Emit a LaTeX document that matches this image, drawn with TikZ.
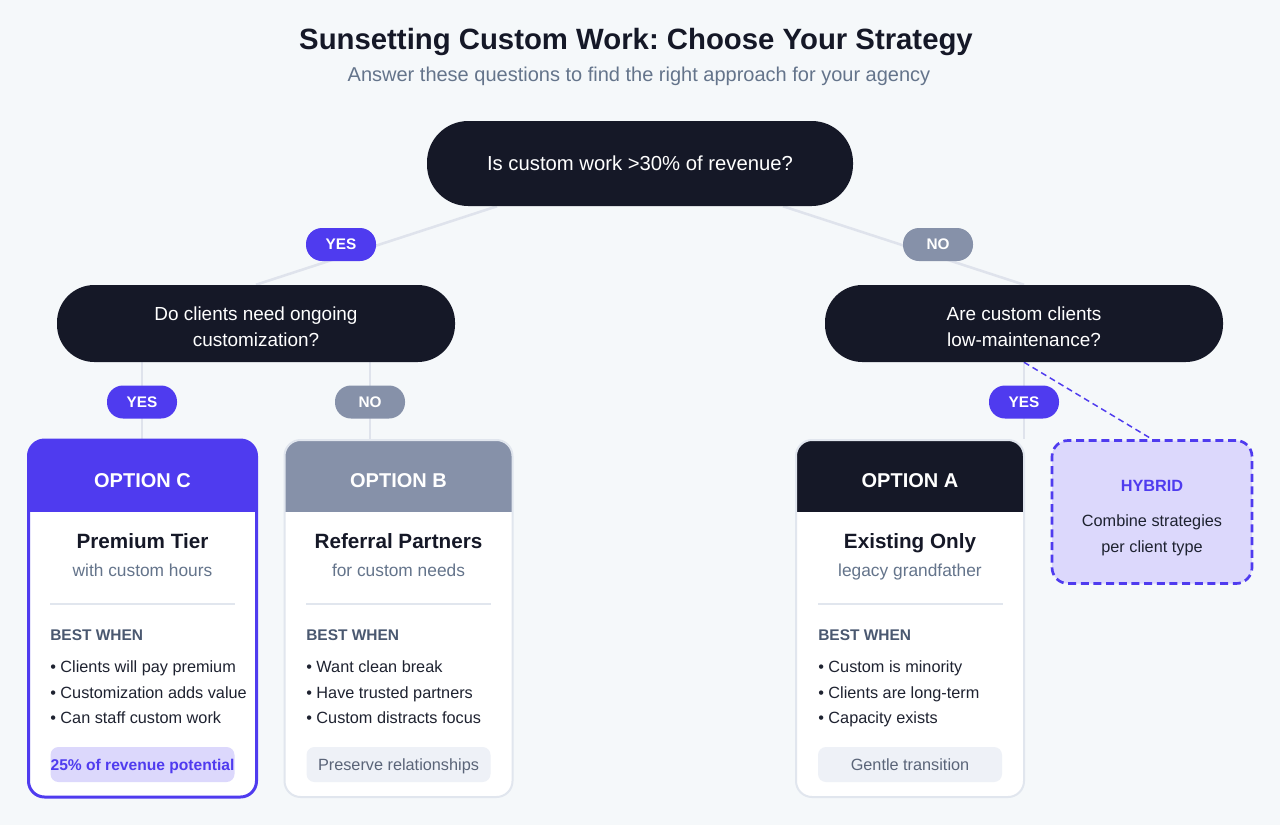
\documentclass[tikz,border=0pt]{standalone}
\usepackage{fontspec}
\setmainfont{Liberation Sans}
\usetikzlibrary{calc}
\definecolor{bgc}{HTML}{F5F8FA}
\definecolor{darkc}{HTML}{151827}
\definecolor{indigoc}{HTML}{4F3BEF}
\definecolor{slatec}{HTML}{8691A9}
\definecolor{connc}{HTML}{DFE3EC}
\definecolor{subc}{HTML}{64748B}
\definecolor{bestc}{HTML}{4A5870}
\definecolor{bodyc}{HTML}{1E2230}
\definecolor{borderc}{HTML}{E1E6EE}
\definecolor{lavc}{HTML}{DCD8FC}
\definecolor{pillc}{HTML}{EEF1F7}
\definecolor{pilltc}{HTML}{5A6478}
\newcommand\myfs[2]{\fontsize{#1}{#2}\selectfont}
\pgfdeclarelayer{back}
\pgfdeclarelayer{wires}
\pgfsetlayers{back,wires,main}
\frenchspacing
\begin{document}
\begin{tikzpicture}[x=0.75pt,y=-0.75pt,
 tx/.style={inner sep=0pt,anchor=base},
 txl/.style={inner sep=0pt,anchor=base west},
 qbox/.style={rectangle,fill=darkc,text=white,inner sep=0pt,align=center},
 ans/.style={rectangle,rounded corners=12pt,minimum width=52.5pt,minimum height=24.75pt,inner sep=0pt,text=white,font=\myfs{11.5}{14}\bfseries,text depth=0pt},
 yesl/.style={ans,fill=indigoc},
 nol/.style={ans,fill=slatec},
 conn/.style={draw=connc,line width=1.9pt},
 card/.style={rectangle,rounded corners=12pt,minimum width=171pt,minimum height=267.75pt,fill=white,draw=borderc,line width=1.5pt,inner sep=0pt},
 hdr/.style={path picture={\fill[#1,sharp corners] (path picture bounding box.north west) rectangle ([yshift=-54pt]path picture bounding box.north east);}},
 hdrtext/.style={tx,text=white,font=\myfs{15}{18}\bfseries},
 ctitle/.style={tx,text=darkc,font=\myfs{15.5}{19}\bfseries},
 csub/.style={tx,text=subc,font=\myfs{13}{16}},
 best/.style={txl,text=bestc,font=\myfs{11.6}{14}\bfseries},
 bul/.style={txl,text=bodyc,font=\myfs{12.2}{15}},
 sep/.style={draw=borderc,line width=1.1pt},
 foot/.style={rectangle,rounded corners=6pt,minimum width=138pt,minimum height=26.25pt,inner sep=0pt,text depth=0pt,fill=pillc,text=pilltc,font=\myfs{12.2}{15}},
]
\begin{pgfonlayer}{back}
\fill[bgc] (0,0) rectangle (1280,825);
\end{pgfonlayer}
\useasboundingbox (0,0) rectangle (1280,825);

% title
\node[tx,text=darkc,font=\myfs{22}{26}\bfseries] (title) at (636,49.5) {Sunsetting Custom Work: Choose Your Strategy};
\node[tx,text=subc,font=\myfs{15}{18}] (subtitle) at (639,81.5) {Answer these questions to find the right approach for your agency};

% questions
\node[qbox,minimum width=319.5pt,minimum height=63.75pt,rounded corners=31pt,font=\myfs{15.2}{18}] (q1) at (640,163.5) {Is custom work >30\% of revenue?};
\node[qbox,minimum width=298.5pt,minimum height=57.75pt,rounded corners=28pt,font=\myfs{14.2}{19}] (q2) at (256,323.5) {\rule{0pt}{14.9pt}Do clients need ongoing\\customization?};
\node[qbox,minimum width=298.5pt,minimum height=57.75pt,rounded corners=28pt,font=\myfs{14.2}{19}] (q3) at (1024,323.5) {\rule{0pt}{14.9pt}Are custom clients\\low-maintenance?};

% answers
\node[yesl] (yes1) at (341,244.5) {YES};
\node[nol] (no1) at (938,244.5) {NO};
\node[yesl] (yes2) at (142,402) {YES};
\node[nol] (no2) at (370,402) {NO};
\node[yesl] (yes3) at (1024,402) {YES};

% cards
\node[card,draw=indigoc,line width=2.25pt,hdr=indigoc] (cardC) at (142.5,618.5) {};
\node[card,hdr=slatec] (cardB) at (398.5,618.5) {};
\node[card,hdr=darkc] (cardA) at (910,618.5) {};

% card C
\node[hdrtext] (cCh) at (142.5,487.3) {OPTION C};
\node[ctitle] (cCt) at (142.5,548.3) {Premium Tier};
\node[csub] (cCs) at (142.5,576.7) {with custom hours};
\draw[sep] (50,604) -- (234.5,604);
\node[best] (cCb) at (50,640.7) {BEST WHEN};
\node[bul] (cC1) at (50,672.3) {• Clients will pay premium};
\node[bul] (cC2) at (50,698.3) {• Customization adds value};
\node[bul] (cC3) at (50,723.3) {• Can staff custom work};
\node[foot,fill=lavc,text=indigoc,font=\myfs{11.7}{14}\bfseries] (cCf) at (142.5,764.5) {25\% of revenue potential};

% card B
\node[hdrtext] (cBh) at (398.5,487.3) {OPTION B};
\node[ctitle] (cBt) at (398.5,548.3) {Referral Partners};
\node[csub] (cBs) at (398.5,576.7) {for custom needs};
\draw[sep] (306,604) -- (490.5,604);
\node[best] (cBb) at (306,640.7) {BEST WHEN};
\node[bul] (cB1) at (306,672.3) {• Want clean break};
\node[bul] (cB2) at (306,698.3) {• Have trusted partners};
\node[bul] (cB3) at (306,723.3) {• Custom distracts focus};
\node[foot] (cBf) at (398.5,764.5) {Preserve relationships};

% card A
\node[hdrtext] (cAh) at (910,487.3) {OPTION A};
\node[ctitle] (cAt) at (910,548.3) {Existing Only};
\node[csub] (cAs) at (910,576.7) {legacy grandfather};
\draw[sep] (818,604) -- (1002.5,604);
\node[best] (cAb) at (818,640.7) {BEST WHEN};
\node[bul] (cA1) at (818,672.3) {• Custom is minority};
\node[bul] (cA2) at (818,698.3) {• Clients are long-term};
\node[bul] (cA3) at (818,723.3) {• Capacity exists};
\node[foot] (cAf) at (910,764.5) {Gentle transition};

% hybrid
\node[rectangle,rounded corners=12pt,minimum width=150pt,minimum height=107.25pt,fill=lavc,draw=indigoc,line width=2pt,dash pattern=on 6pt off 3.5pt,align=center,text=bodyc,font=\myfs{12.2}{19.5},inner sep=0pt] (hyb) at (1152,512) {\rule{0pt}{18pt}{\color{indigoc}\bfseries HYBRID}\\[6.75pt]Combine strategies\\per client type};

% connectors
\coordinate (c1) at ([xshift=-85.5pt]q2.south);
\coordinate (c2) at ([xshift=85.5pt]q2.south);
\begin{pgfonlayer}{wires}
\draw[conn] ([xshift=-107.25pt]q1.south) -- (q2.north);
\draw[conn] ([xshift=107.25pt]q1.south) -- (q3.north);
\draw[conn] (c1) -- (c1 |- cardC.north);
\draw[conn] (c2) -- (c2 |- cardB.north);
\draw[conn] (q3.south) -- (q3.south |- cardA.north);
\draw[indigoc,line width=1.1pt,dash pattern=on 4.5pt off 3pt] (q3.south) -- (hyb.north);
\end{pgfonlayer}
\end{tikzpicture}
\end{document}
